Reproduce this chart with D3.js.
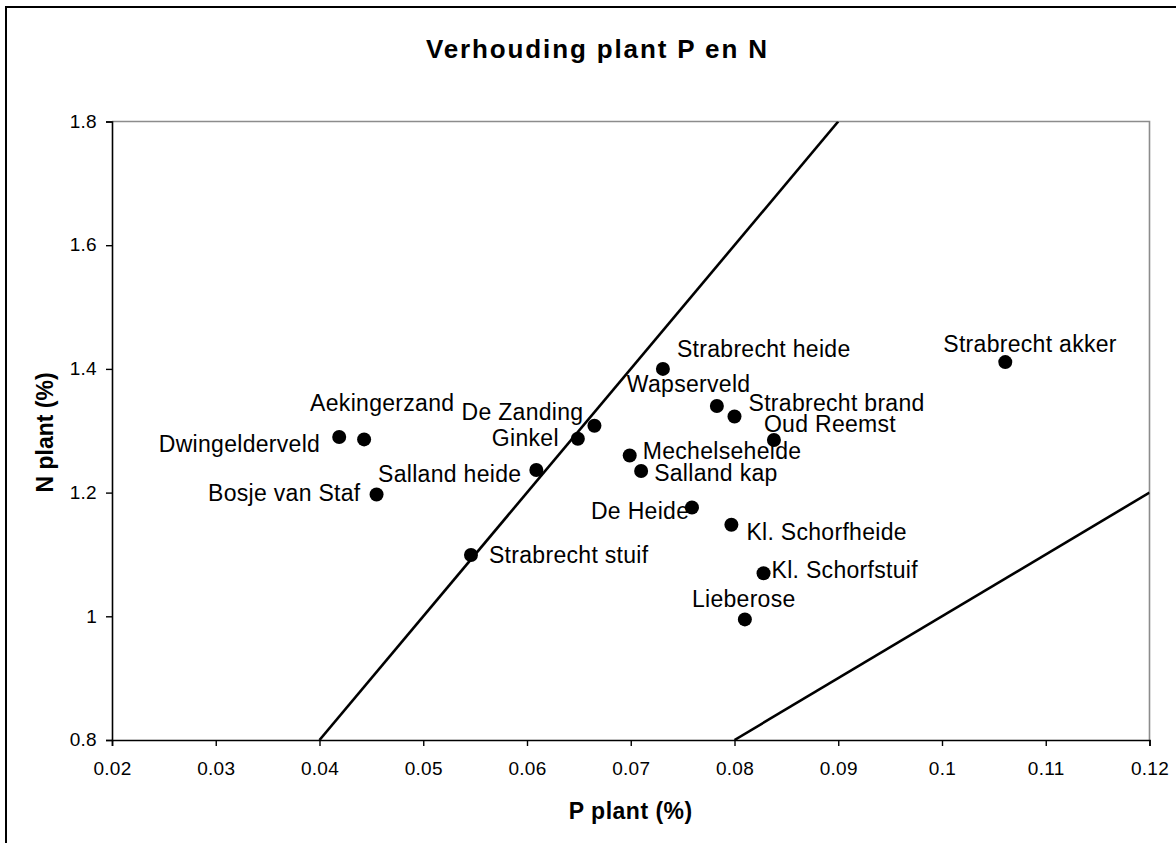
<!DOCTYPE html>
<html>
<head>
<meta charset="utf-8">
<script src="https://cdn.jsdelivr.net/npm/d3@7"></script>
<style>
  html, body { margin: 0; padding: 0; background: #fff; }
  svg { display: block; font-family: "Liberation Sans", Arial, sans-serif; }
</style>
</head>
<body>
<svg id="chart" width="1176" height="843"></svg>
<script>
// ---- data ----
const sites = ["Strabrecht akker","Strabrecht heide","Wapserveld","Strabrecht brand","Oud Reemst",
  "De Zanding","Ginkel","Salland heide","Mechelseheide","Salland kap","De Heide","Kl. Schorfheide",
  "Kl. Schorfstuif","Lieberose","Dwingelderveld","Aekingerzand","Bosje van Staf","Strabrecht stuif"];
const pPlant = [0.1061,0.0731,0.0783,0.0800,0.0838,0.0665,0.0649,0.0609,0.0699,0.0710,0.0759,0.0797,
  0.0828,0.0810,0.0419,0.0443,0.0455,0.0546];
const nPlant = [1.411,1.400,1.340,1.323,1.285,1.308,1.287,1.2365,1.260,1.235,1.176,1.148,
  1.0695,0.995,1.290,1.286,1.197,1.099];
// reference lines N/P = 20 and N/P = 10
const line20 = [[0.04,0.8],[0.09,1.8]];
const line10 = [[0.08,0.8],[0.12,1.2]];
const xTicks = [0.02,0.03,0.04,0.05,0.06,0.07,0.08,0.09,0.1,0.11,0.12];
const yTicks = [0.8,1,1.2,1.4,1.6,1.8];
const title = "Verhouding plant P en N";
const xTitle = "P plant (%)";
const yTitle = "N plant (%)";

// ---- label placement (layout, pixels relative to point) ----
const labelLayout = [
  {dx:-62,dy:-10,a:"start"},{dx:14,dy:-12,a:"start"},{dx:-90,dy:-14,a:"start"},{dx:14,dy:-6,a:"start"},
  {dx:-10,dy:-8,a:"start"},{dx:-11,dy:-6,a:"end"},{dx:-19,dy:7,a:"end"},{dx:-15,dy:12,a:"end"},
  {dx:13,dy:4,a:"start"},{dx:13,dy:10,a:"start"},{dx:-101,dy:12,a:"start"},{dx:15,dy:15,a:"start"},
  {dx:8,dy:5,a:"start"},{dx:-53,dy:-12,a:"start"},{dx:-19,dy:15,a:"end"},{dx:-54,dy:-28,a:"start"},
  {dx:-16,dy:7,a:"end"},{dx:18,dy:8,a:"start"}
];

const svg = d3.select("#chart");
const L = 112, R = 1149.5, T = 121.5, B = 740;

// outer chart border (extends past the window on right and bottom)
svg.append("rect").attr("x",6).attr("y",7).attr("width",1250).attr("height",900)
  .attr("fill","none").attr("stroke","#000").attr("stroke-width",2);

const x = d3.scaleLinear().domain([0.02,0.12]).range([L,R]);
const y = d3.scaleLinear().domain([0.8,1.8]).range([B,T]);

// plot area border (gray top & right)
svg.append("path").attr("d",`M${L},${T}H${R}V${B}`).attr("fill","none")
  .attr("stroke","#8c8c8c").attr("stroke-width",1.6);

// axes
const xAxis = d3.axisBottom(x).tickValues(xTicks).tickSize(6).tickPadding(16)
  .tickFormat(d => String(+d.toFixed(2)));
const yAxis = d3.axisLeft(y).tickValues(yTicks).tickSize(6).tickPadding(9)
  .tickFormat(d => String(+d.toFixed(1)));

const gx = svg.append("g").attr("transform",`translate(0,${B})`).call(xAxis);
const gy = svg.append("g").attr("transform",`translate(${L},0)`).call(yAxis);
[gx,gy].forEach(g => {
  g.attr("font-size",19).attr("font-family","'Liberation Sans', Arial, sans-serif");
  g.select(".domain").attr("stroke","#000").attr("stroke-width",1.6);
  g.selectAll(".tick line").attr("stroke","#000").attr("stroke-width",1.4);
  g.selectAll(".tick text").attr("fill","#000").attr("font-size",19)
    .attr("letter-spacing","0.3px");
});
gy.selectAll(".tick text").attr("dy","0.3em");

// clip for reference lines
svg.append("clipPath").attr("id","plotclip").append("rect")
  .attr("x",L).attr("y",T).attr("width",R-L).attr("height",B-T);

const lineGen = d3.line().x(d => x(d[0])).y(d => y(d[1]));
[line20,line10].forEach(ln => {
  svg.append("path").attr("d",lineGen(ln)).attr("fill","none")
    .attr("stroke","#000").attr("stroke-width",2.6).attr("clip-path","url(#plotclip)");
});

// points
const pts = sites.map((s,i) => ({name:s, p:pPlant[i], n:nPlant[i], lay:labelLayout[i]}));
svg.append("g").selectAll("circle").data(pts).join("circle")
  .attr("cx",d => x(d.p)).attr("cy",d => y(d.n)).attr("r",7).attr("fill","#000");

// labels
svg.append("g").selectAll("text").data(pts).join("text")
  .attr("x",d => x(d.p) + d.lay.dx).attr("y",d => y(d.n) + d.lay.dy)
  .attr("text-anchor",d => d.lay.a)
  .attr("font-size",23).attr("letter-spacing","0.3px").attr("fill","#000")
  .text(d => d.name);

// titles
svg.append("text").attr("x",596.5).attr("y",58.3).attr("text-anchor","middle")
  .attr("font-size",26).attr("font-weight","bold")
  .attr("textLength",341).attr("lengthAdjust","spacing").text(title);

svg.append("text").attr("x",(L+R)/2).attr("y",818.5).attr("text-anchor","middle")
  .attr("font-size",23).attr("font-weight","bold").attr("letter-spacing","0.5px").text(xTitle);

svg.append("text").attr("transform",`translate(53,432.5) rotate(-90)`).attr("text-anchor","middle")
  .attr("font-size",23).attr("font-weight","bold").text(yTitle);
</script>
</body>
</html>
